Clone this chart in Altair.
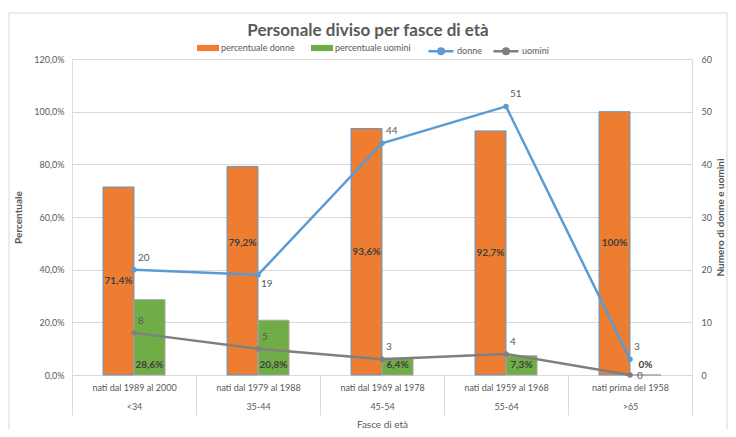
import altair as alt
import pandas as pd

categorie = ["nati dal 1989 al 2000", "nati dal 1979 al 1988", "nati dal 1969 al 1978",
             "nati dal 1959 al 1968", "nati prima del 1958"]
fasce = ["<34", "35-44", "45-54", "55-64", ">65"]
perc_donne = [71.4, 79.2, 93.6, 92.7, 100.0]
perc_uomini = [28.6, 20.8, 6.4, 7.3, 0.0]
num_donne = [20, 19, 44, 51, 3]
num_uomini = [8, 5, 3, 4, 0]
perc_ticks = [0, 20, 40, 60, 80, 100, 120]
num_ticks = [0, 10, 20, 30, 40, 50, 60]
serie_barre = ["percentuale donne", "percentuale uomini"]
serie_linee = ["donne", "uomini"]

ORANGE = "#ED7D31"
GREEN = "#70AD47"
BLUE = "#5B9BD5"
GRAY = "#7F7F7F"
TXT = "#595959"
FONT = "Lato"

keys = [f"{c}|{f}" for c, f in zip(categorie, fasce)]


def fmt(v):
    if float(v).is_integer():
        return f"{int(v)}%"
    return f"{v:.1f}".replace(".", ",") + "%"


rows = []
for i, (k, d, u) in enumerate(zip(keys, perc_donne, perc_uomini)):
    rows.append({"cat": k, "idx": i, "serie": serie_barre[0], "value": d, "label": fmt(d)})
    rows.append({"cat": k, "idx": i, "serie": serie_barre[1], "value": u, "label": fmt(u)})
bars_df = pd.DataFrame(rows)

lrows = []
for i, (k, d, u) in enumerate(zip(keys, num_donne, num_uomini)):
    lrows.append({"cat": k, "idx": i, "serie": serie_linee[0], "count": d})
    lrows.append({"cat": k, "idx": i, "serie": serie_linee[1], "count": u})
lines_df = pd.DataFrame(lrows)

x_enc = alt.X(
    "cat:N", sort=keys,
    scale=alt.Scale(paddingInner=0, paddingOuter=0),
    axis=alt.Axis(
        title="Fasce di età", labelExpr="split(datum.label, '|')",
        tickBand="extent", tickSize=40, tickColor="#D9D9D9", domainColor="#D9D9D9",
        labelPadding=-32, labelLineHeight=19, labelAngle=0, labelFontSize=9,
        labelColor=TXT, labelBaseline="top", titleFontSize=10, titleFontWeight="normal",
        titleColor=TXT, titlePadding=4, labelFont=FONT, titleFont=FONT,
    ),
)

xoff = alt.XOffset("serie:N", sort=serie_barre,
                   scale=alt.Scale(paddingInner=0, paddingOuter=1))

y_perc = alt.Y(
    "value:Q", scale=alt.Scale(domain=[0, 120]),
    axis=alt.Axis(
        values=perc_ticks, orient="left", title="Percentuale",
        labelExpr="replace(format(datum.value, '.1f'), '.', ',') + '%'",
        grid=True, gridColor="#D9D9D9", domain=False, ticks=False,
        labelFontSize=9, labelColor=TXT, labelPadding=8, titleFontSize=10,
        titleFontWeight="bold", titleColor=TXT, titlePadding=10,
        labelFont=FONT, titleFont=FONT,
    ),
)

frame = alt.Chart(pd.DataFrame({"f": [0]})).mark_rect(
    filled=False, stroke="#D9D9D9", strokeWidth=1
).encode(
    x=alt.value(-63), x2=alt.value(655), y=alt.value(-46), y2=alt.value(420),
)

bars = alt.Chart(bars_df).mark_bar(strokeWidth=1).encode(
    x=x_enc,
    xOffset=xoff,
    y=y_perc,
    fill=alt.Fill(
        "serie:N", scale=alt.Scale(domain=serie_barre, range=[ORANGE, GREEN]),
        legend=alt.Legend(
            orient="none", legendX=125, legendY=-22, direction="horizontal",
            title=None, symbolType="M-1,-0.28H1V0.28H-1Z", symbolSize=484,
            symbolStrokeWidth=0, labelFontSize=9, labelColor=TXT, labelFont=FONT,
            columnPadding=16, symbolOffset=0, padding=0, labelOffset=2,
        ),
    ),
    stroke=alt.condition("datum.serie == 'percentuale donne'",
                         alt.value(BLUE), alt.value("#A5A5A5")),
)

cond_up = "datum.idx == 1"
text_donne = alt.Chart(bars_df).transform_filter(
    f"datum.serie == 'percentuale donne' && !({cond_up})"
).transform_calculate(mid="datum.value / 2").mark_text(
    fontSize=10, fontWeight="bold", color="#404040", font=FONT
).encode(
    x=alt.X("cat:N", sort=keys), xOffset=xoff,
    y=alt.Y("mid:Q"), text="label:N",
)
text_donne_up = alt.Chart(bars_df).transform_filter(
    f"datum.serie == 'percentuale donne' && {cond_up}"
).transform_calculate(mid="datum.value / 2").mark_text(
    fontSize=10, fontWeight="bold", color="#404040", font=FONT, dy=-28
).encode(
    x=alt.X("cat:N", sort=keys), xOffset=xoff,
    y=alt.Y("mid:Q"), text="label:N",
)

text_uomini = alt.Chart(bars_df).transform_filter(
    "datum.serie == 'percentuale uomini'"
).transform_calculate(zero="0").mark_text(
    fontSize=10, fontWeight="bold", color="#404040", font=FONT, dy=-10
).encode(
    x=alt.X("cat:N", sort=keys), xOffset=xoff,
    y=alt.Y("zero:Q"), text="label:N",
)

bar_layer = alt.layer(frame, bars, text_donne, text_donne_up, text_uomini)

y_num = alt.Y(
    "count:Q", scale=alt.Scale(domain=[0, 60]),
    axis=alt.Axis(
        values=num_ticks, orient="right", title="Numero di donne e uomini",
        grid=False, domain=False, ticks=False, labelFontSize=9, labelColor=TXT,
        labelPadding=9, titleFontSize=10, titleFontWeight="bold", titleColor=TXT,
        titleAngle=270, titlePadding=14, labelFont=FONT, titleFont=FONT,
    ),
)

stroke_enc = alt.Stroke(
    "serie:N", scale=alt.Scale(domain=serie_linee, range=[BLUE, GRAY]),
    legend=alt.Legend(
        orient="none", legendX=355, legendY=-22, direction="horizontal", title=None,
        symbolType="M-1,0H1M0.22,0A0.22,0.22 0 1,1 -0.22,0A0.22,0.22 0 1,1 0.22,0",
        symbolSize=625, symbolStrokeWidth=2.5, labelFontSize=9, labelColor=TXT,
        labelFont=FONT, columnPadding=6, padding=0, labelOffset=2,
    ),
)

lines = alt.Chart(lines_df).mark_line(strokeWidth=2.5).encode(
    x=alt.X("cat:N", sort=keys), y=y_num, stroke=stroke_enc,
)
points = alt.Chart(lines_df).mark_point(filled=True, size=30, opacity=1).encode(
    x=alt.X("cat:N", sort=keys), y=alt.Y("count:Q"),
    color=alt.Color("serie:N", scale=alt.Scale(domain=serie_linee, range=[BLUE, GRAY]),
                    legend=None),
)

last = len(keys) - 1
cond_below = "datum.serie == 'donne' && datum.idx == 1"
cond_right = f"datum.serie == 'uomini' && datum.idx == {last}"

line_text = alt.Chart(lines_df).transform_filter(
    f"!({cond_below}) && !({cond_right})"
).mark_text(
    fontSize=10, color=TXT, font=FONT, align="left", dx=4, dy=-12
).encode(
    x=alt.X("cat:N", sort=keys), y=alt.Y("count:Q"), text="count:Q",
)
line_text_below = alt.Chart(lines_df).transform_filter(cond_below).mark_text(
    fontSize=10, color=TXT, font=FONT, align="left", dx=3, dy=9
).encode(
    x=alt.X("cat:N", sort=keys), y=alt.Y("count:Q"), text="count:Q",
)
line_text_right = alt.Chart(lines_df).transform_filter(cond_right).mark_text(
    fontSize=10, color=TXT, font=FONT, align="left", dx=7, dy=1
).encode(
    x=alt.X("cat:N", sort=keys), y=alt.Y("count:Q"), text="count:Q",
)
line_layer = alt.layer(lines, points, line_text, line_text_below, line_text_right)

chart = alt.layer(bar_layer, line_layer).resolve_scale(
    y="independent"
).properties(
    width=620, height=316,
    padding={"left": 64, "top": 51, "right": 36, "bottom": 54},
    autosize=alt.AutoSizeParams(type="none"),
    title=alt.Title(
        "Personale diviso per fasce di età", fontSize=17, fontWeight="bold",
        color=TXT, anchor="middle", frame="bounds", font=FONT, offset=-27,
    ),
).configure_view(stroke=None).configure(background="white")

chart.save("out.html", embed_options={"renderer": "svg", "actions": False})
